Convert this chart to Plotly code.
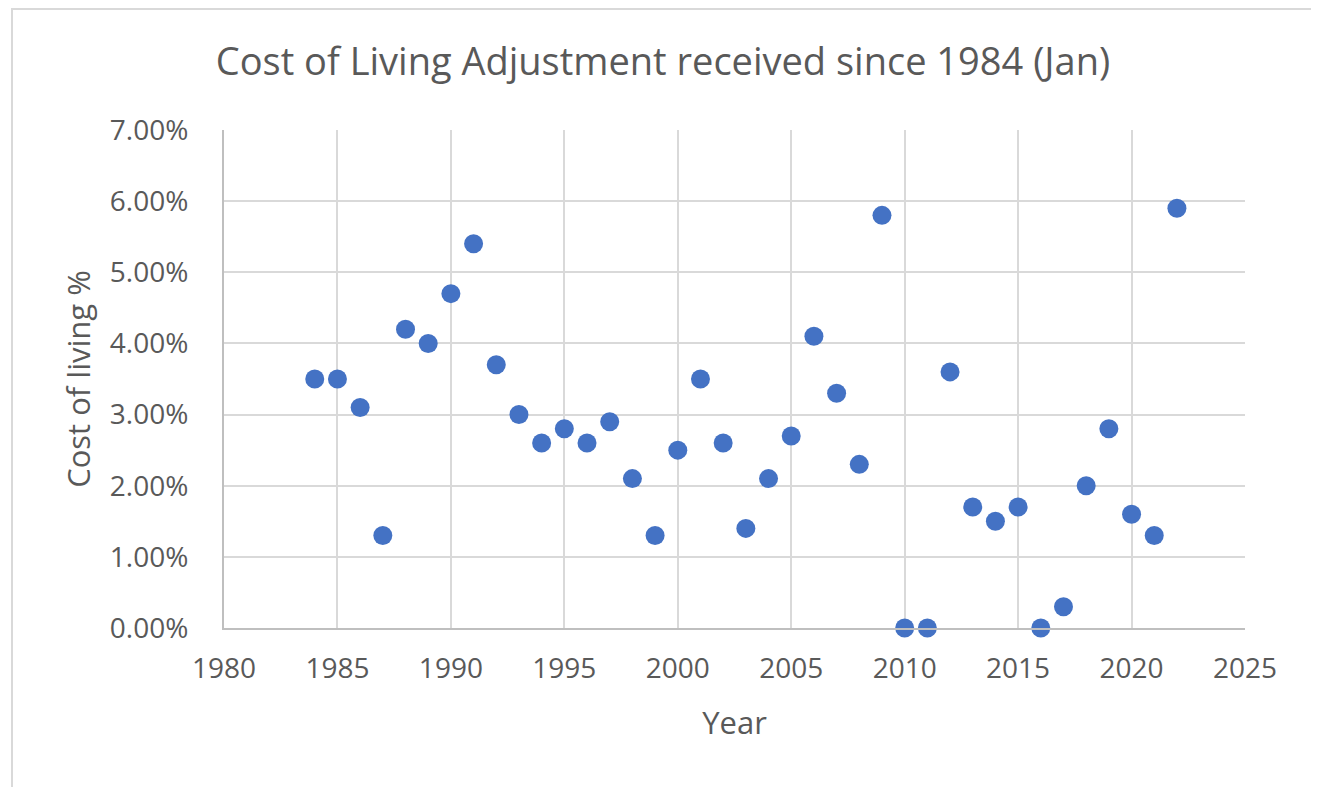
import plotly.graph_objects as go

# COLA received each January since 1984
years = [1984, 1985, 1986, 1987, 1988, 1989, 1990, 1991, 1992, 1993,
         1994, 1995, 1996, 1997, 1998, 1999, 2000, 2001, 2002, 2003,
         2004, 2005, 2006, 2007, 2008, 2009, 2010, 2011, 2012, 2013,
         2014, 2015, 2016, 2017, 2018, 2019, 2020, 2021, 2022]
cola_pct = [3.5, 3.5, 3.1, 1.3, 4.2, 4.0, 4.7, 5.4, 3.7, 3.0,
            2.6, 2.8, 2.6, 2.9, 2.1, 1.3, 2.5, 3.5, 2.6, 1.4,
            2.1, 2.7, 4.1, 3.3, 2.3, 5.8, 0.0, 0.0, 3.6, 1.7,
            1.5, 1.7, 0.0, 0.3, 2.0, 2.8, 1.6, 1.3, 5.9]

TEXT = '#595959'
GRID = '#d9d9d9'
FONT = 'Open Sans, Noto Sans, sans-serif'

fig = go.Figure()
fig.add_trace(go.Scatter(
    x=years,
    y=[v / 100 for v in cola_pct],
    mode='markers',
    marker=dict(size=19, color='#4472C4'),
    showlegend=False,
    cliponaxis=False,
))

# page body has an 8px margin, so the figure is shifted by that
W, H = 1311, 779
L, R, T, B = 216, 74, 122, 159
pw, ph = W - L - R, H - T - B

fig.update_layout(
    width=W, height=H,
    margin=dict(l=L, r=R, t=T, b=B),
    paper_bgcolor='white',
    plot_bgcolor='white',
    font=dict(family=FONT, color=TEXT),
    title=dict(text='Cost of Living Adjustment received since 1984 (Jan)',
               x=655 / W, xanchor='center', y=1 - 54 / H, yanchor='middle',
               font=dict(size=38, color=TEXT)),
    xaxis=dict(
        range=[1980, 2025], dtick=5, tick0=1980,
        showgrid=True, gridcolor=GRID, gridwidth=2,
        showline=True, linecolor='#bfbfbf', linewidth=2,
        zeroline=False, ticks='', ticklabelstandoff=14,
        tickfont=dict(size=28, color=TEXT),
        title=dict(text='Year', font=dict(size=31, color=TEXT), standoff=28),
    ),
    yaxis=dict(
        range=[0, 0.07], dtick=0.01, tickformat='.2%',
        showgrid=True, gridcolor=GRID, gridwidth=2,
        showline=True, linecolor='#bfbfbf', linewidth=2,
        zeroline=False, ticks='', ticklabelstandoff=28,
        tickfont=dict(size=28, color=TEXT),
        title=dict(text='Cost of living %', font=dict(size=31, color=TEXT), standoff=10),
    ),
)

# outer chart border
fig.add_shape(type='rect', xref='paper', yref='paper',
              x0=(4 - L) / pw, x1=(1309 - L) / pw,
              y0=(H - B - 800) / ph, y1=(H - B - 1) / ph,
              line=dict(color=GRID, width=2), layer='below')

fig.write_html("out.html")
